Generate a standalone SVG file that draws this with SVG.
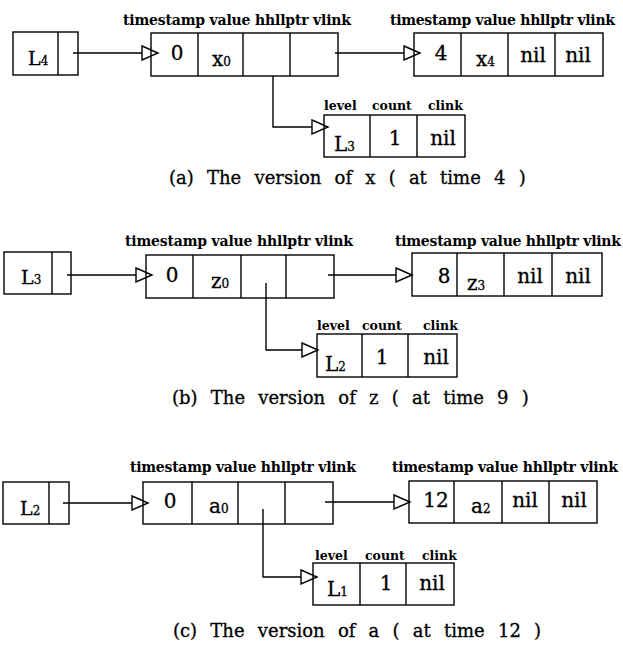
<svg xmlns="http://www.w3.org/2000/svg" width="623" height="645" viewBox="0 0 623 645">
<defs>
<marker id="tri" markerUnits="userSpaceOnUse" markerWidth="20" markerHeight="16" refX="17" refY="8" orient="auto">
<path d="M1,1 L17,8 L1,15 Z" fill="#fff" stroke="#000" stroke-width="1.4"/>
</marker>
</defs>
<style>
.box{fill:none;stroke:#000;stroke-width:1.4}
.hd{font-family:"DejaVu Serif",serif;font-size:14px;font-weight:bold;fill:#000}
.lh{font-family:"DejaVu Serif",serif;font-size:12.5px;font-weight:bold;fill:#000}
.cv{font-family:"DejaVu Serif",serif;font-size:20px;fill:#000;stroke:#000;stroke-width:0.3}
.lv{font-family:"DejaVu Serif",serif;font-size:19px;fill:#000;stroke:#000;stroke-width:0.3}
.m{text-anchor:middle}
.sub{font-size:12px}
.cap{font-family:"DejaVu Serif",serif;font-size:18px;word-spacing:7.5px;fill:#000;stroke:#000;stroke-width:0.3}
.ln{fill:none;stroke:#000;stroke-width:1.4;marker-end:url(#tri)}
</style>
<rect width="623" height="645" fill="#fff"/>

<g id="connectors">
<path class="ln" d="M73,53 H158"/>
<path class="ln" d="M335,53 H420"/>
<path class="ln" d="M273,76 V127 H328"/>
<path class="ln" d="M67,275 H152"/>
<path class="ln" d="M328,275 H412"/>
<path class="ln" d="M266,283 V350 H318"/>
<path class="ln" d="M63,503 H148"/>
<path class="ln" d="M325,502 H410"/>
<path class="ln" d="M263,509 V577 H317"/>
</g>

<!-- (a) -->
<g id="a-head">
<rect class="box" x="13" y="32" width="65" height="43"/>
<line class="box" x1="58" y1="32" x2="58" y2="75"/>
<text class="lv" x="28" y="65">L<tspan class="sub">4</tspan></text>
</g>
<g id="a-node0">
<text class="hd" x="123" y="25" textLength="228" lengthAdjust="spacing">timestamp value hhllptr vlink</text>
<rect class="box" x="151" y="33" width="187" height="43"/>
<line class="box" x1="198" y1="33" x2="198" y2="76"/>
<line class="box" x1="243" y1="33" x2="243" y2="76"/>
<line class="box" x1="290" y1="33" x2="290" y2="76"/>
<text class="cv m" x="177" y="60">0</text>
<text class="cv" x="212" y="66" font-size="19">x<tspan class="sub">0</tspan></text>
</g>
<g id="a-node4">
<text class="hd" x="390" y="25" textLength="225" lengthAdjust="spacing">timestamp value hhllptr vlink</text>
<rect class="box" x="414" y="33" width="189" height="43"/>
<line class="box" x1="461" y1="33" x2="461" y2="76"/>
<line class="box" x1="508" y1="33" x2="508" y2="76"/>
<line class="box" x1="555" y1="33" x2="555" y2="76"/>
<text class="cv m" x="441" y="60">4</text>
<text class="cv" x="476" y="66" font-size="19">x<tspan class="sub">4</tspan></text>
<text class="cv m" x="533" y="62">nil</text>
<text class="cv m" x="578" y="62">nil</text>
</g>
<g id="a-level">
<text class="lh" x="324" y="110">level</text>
<text class="lh" x="372" y="110">count</text>
<text class="lh" x="428" y="110">clink</text>
<rect class="box" x="324" y="115" width="141" height="42"/>
<line class="box" x1="370" y1="115" x2="370" y2="157"/>
<line class="box" x1="417" y1="115" x2="417" y2="157"/>
<text class="cv" x="334" y="151">L<tspan class="sub">3</tspan></text>
<text class="cv m" x="395" y="145">1</text>
<text class="cv m" x="443" y="145">nil</text>
</g>
<text class="cap" x="169" y="184">(a) The version of x ( at time 4 )</text>

<!-- (b) -->
<g id="b-head">
<rect class="box" x="4" y="252" width="67" height="42"/>
<line class="box" x1="52" y1="252" x2="52" y2="294"/>
<text class="lv" x="21" y="284">L<tspan class="sub">3</tspan></text>
</g>
<g id="b-node0">
<text class="hd" x="125" y="246" textLength="228" lengthAdjust="spacing">timestamp value hhllptr vlink</text>
<rect class="box" x="146" y="255" width="188" height="43"/>
<line class="box" x1="193" y1="255" x2="193" y2="298"/>
<line class="box" x1="241" y1="255" x2="241" y2="298"/>
<line class="box" x1="286" y1="255" x2="286" y2="298"/>
<text class="cv m" x="172" y="282">0</text>
<text class="cv" x="211" y="288" font-size="19">z<tspan class="sub">0</tspan></text>
</g>
<g id="b-node8">
<text class="hd" x="395" y="246" textLength="226" lengthAdjust="spacing">timestamp value hhllptr vlink</text>
<rect class="box" x="412" y="253" width="190" height="43"/>
<line class="box" x1="457" y1="253" x2="457" y2="296"/>
<line class="box" x1="504" y1="253" x2="504" y2="296"/>
<line class="box" x1="552" y1="253" x2="552" y2="296"/>
<text class="cv m" x="444" y="283">8</text>
<text class="cv" x="467" y="290" font-size="19">z<tspan class="sub">3</tspan></text>
<text class="cv m" x="530" y="283">nil</text>
<text class="cv m" x="578" y="283">nil</text>
</g>
<g id="b-level">
<text class="lh" x="317" y="330">level</text>
<text class="lh" x="362" y="330">count</text>
<text class="lh" x="423" y="330">clink</text>
<rect class="box" x="317" y="334" width="140" height="43"/>
<line class="box" x1="362" y1="334" x2="362" y2="377"/>
<line class="box" x1="408" y1="334" x2="408" y2="377"/>
<text class="cv" x="325" y="371">L<tspan class="sub">2</tspan></text>
<text class="cv m" x="382" y="364">1</text>
<text class="cv m" x="436" y="364">nil</text>
</g>
<text class="cap" x="172" y="404">(b) The version of z ( at time 9 )</text>

<!-- (c) -->
<g id="c-head">
<rect class="box" x="3" y="482" width="66" height="42"/>
<line class="box" x1="49" y1="482" x2="49" y2="524"/>
<text class="lv" x="20" y="515">L<tspan class="sub">2</tspan></text>
</g>
<g id="c-node0">
<text class="hd" x="130" y="472" textLength="226" lengthAdjust="spacing">timestamp value hhllptr vlink</text>
<rect class="box" x="143" y="482" width="190" height="42"/>
<line class="box" x1="192" y1="482" x2="192" y2="524"/>
<line class="box" x1="238" y1="482" x2="238" y2="524"/>
<line class="box" x1="285" y1="482" x2="285" y2="524"/>
<text class="cv m" x="170" y="508">0</text>
<text class="cv" x="209" y="513" font-size="19">a<tspan class="sub">0</tspan></text>
</g>
<g id="c-node12">
<text class="hd" x="392" y="472" textLength="226" lengthAdjust="spacing">timestamp value hhllptr vlink</text>
<rect class="box" x="409" y="481" width="188" height="42"/>
<line class="box" x1="454" y1="481" x2="454" y2="523"/>
<line class="box" x1="502" y1="481" x2="502" y2="523"/>
<line class="box" x1="549" y1="481" x2="549" y2="523"/>
<text class="cv m" x="436" y="507">12</text>
<text class="cv" x="471" y="513" font-size="19">a<tspan class="sub">2</tspan></text>
<text class="cv m" x="525" y="507">nil</text>
<text class="cv m" x="574" y="507">nil</text>
</g>
<g id="c-level">
<text class="lh" x="315" y="560">level</text>
<text class="lh" x="365" y="560">count</text>
<text class="lh" x="422" y="560">clink</text>
<rect class="box" x="313" y="563" width="141" height="42"/>
<line class="box" x1="360" y1="563" x2="360" y2="605"/>
<line class="box" x1="406" y1="563" x2="406" y2="605"/>
<text class="cv" x="327" y="596">L<tspan class="sub">1</tspan></text>
<text class="cv m" x="386" y="590">1</text>
<text class="cv m" x="432" y="590">nil</text>
</g>
<text class="cap" x="173" y="637">(c) The version of a ( at time 12 )</text>
</svg>
